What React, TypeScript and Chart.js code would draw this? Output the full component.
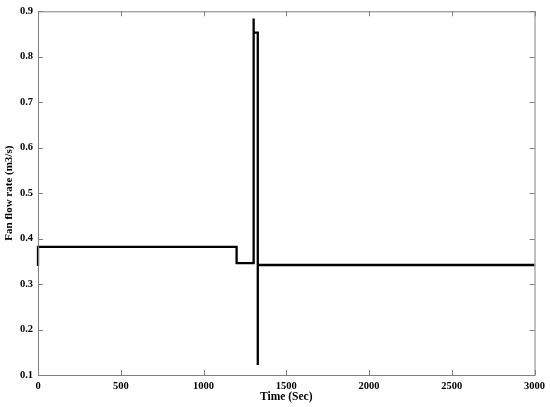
import React, { useEffect, useRef } from "react";
import { Chart, registerables } from "chart.js";

Chart.register(...registerables);

// Time (s) and fan flow rate (m3/s) – step profile
const timeValues: number[] = [0, 0, 1200, 1200, 1303, 1303, 1303, 1328, 1328, 1328, 3000];
const flowValues: number[] = [0.34, 0.382, 0.382, 0.346, 0.346, 0.884, 0.853, 0.853, 0.122, 0.342, 0.342];

const xTicks: number[] = [0, 500, 1000, 1500, 2000, 2500, 3000];
const yTicks: number[] = [0.1, 0.2, 0.3, 0.4, 0.5, 0.6, 0.7, 0.8, 0.9];

const FONT = "'Liberation Serif', 'Times New Roman', serif";

const framePlugin = {
  id: "frameTicks",
  afterDraw(chart: any) {
    const { ctx, chartArea } = chart;
    const xs = chart.scales.x;
    const ys = chart.scales.y;
    const L = 5;
    ctx.save();
    ctx.strokeStyle = "#808080";
    ctx.lineWidth = 1;
    ctx.strokeRect(chartArea.left + 0.5, chartArea.top + 0.5, chartArea.right - chartArea.left, chartArea.bottom - chartArea.top);
    ctx.beginPath();
    xTicks.forEach((v) => {
      const x = Math.round(xs.getPixelForValue(v)) + 0.5;
      ctx.moveTo(x, chartArea.bottom);
      ctx.lineTo(x, chartArea.bottom - L);
      ctx.moveTo(x, chartArea.top);
      ctx.lineTo(x, chartArea.top + L);
    });
    yTicks.forEach((v) => {
      const y = Math.round(ys.getPixelForValue(v)) + 0.5;
      ctx.moveTo(chartArea.left, y);
      ctx.lineTo(chartArea.left + L, y);
      ctx.moveTo(chartArea.right, y);
      ctx.lineTo(chartArea.right - L, y);
    });
    ctx.stroke();
    ctx.restore();
  },
};

export default function App() {
  const ref = useRef<HTMLCanvasElement | null>(null);

  useEffect(() => {
    if (!ref.current) return;
    const data = timeValues.map((t, i) => ({ x: t, y: flowValues[i] }));
    const chart = new Chart(ref.current, {
      type: "line",
      data: {
        datasets: [
          {
            data,
            borderColor: "#000000",
            borderWidth: 2.3,
            pointRadius: 0,
            tension: 0,
            fill: false,
            clip: false as any,
          },
        ],
      },
      options: {
        responsive: false,
        animation: false,
        events: [],
        layout: { padding: { top: 9.5, right: 15, left: 0, bottom: 0 } },
        plugins: { legend: { display: false }, tooltip: { enabled: false } },
        scales: {
          x: {
            type: "linear",
            min: 0,
            max: 3000,
            afterFit: (s: any) => {
              s.height = 32;
            },
            grid: { display: false, drawTicks: false },
            border: { display: false },
            ticks: {
              stepSize: 500,
              padding: 5,
              color: "#000",
              maxRotation: 0,
              callback: (v: any) => String(Math.round(Number(v))),
              font: { family: FONT, size: 10.5, weight: "bold" },
            },
            title: {
              display: true,
              text: "Time (Sec)",
              color: "#000",
              padding: { top: 0, bottom: 3 },
              font: { family: FONT, size: 11.5, weight: "bold" },
            },
          },
          y: {
            type: "linear",
            min: 0.1,
            max: 0.9,
            afterFit: (s: any) => {
              s.width = 38;
            },
            grid: { display: false, drawTicks: false },
            border: { display: false },
            ticks: {
              stepSize: 0.1,
              padding: 5,
              color: "#000",
              callback: (v: any) => Number(v).toFixed(1),
              font: { family: FONT, size: 10.5, weight: "bold" },
            },
            title: {
              display: true,
              text: "Fan flow rate (m3/s)",
              color: "#000",
              padding: { top: 3, bottom: 0 },
              font: { family: FONT, size: 11, weight: "bold" },
            },
          },
        },
      },
      plugins: [framePlugin],
    });
    return () => chart.destroy();
  }, []);

  return (
    <div style={{ position: "absolute", left: 0, top: 0, width: 550, height: 407, background: "#fff" }}>
      <canvas ref={ref} width={550} height={407} style={{ display: "block" }} />
    </div>
  );
}
